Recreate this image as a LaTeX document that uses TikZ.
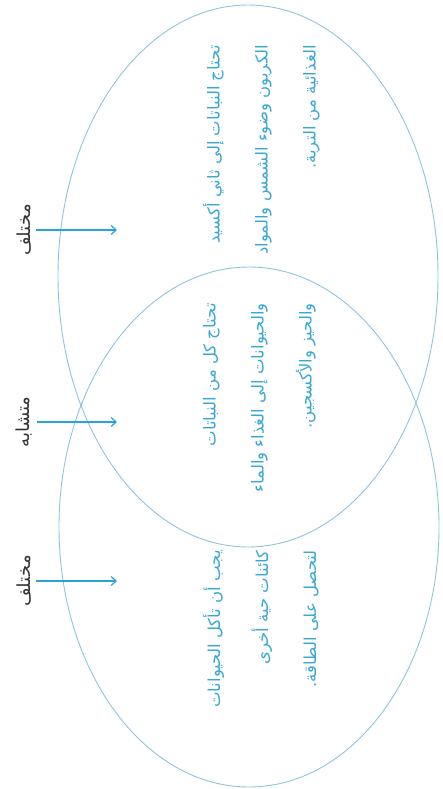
\documentclass[tikz,border=0pt]{standalone}
\usepackage{fontspec}
\usetikzlibrary{arrows.meta,positioning}
\newfontfamily\arabicfont[Script=Arabic]{DejaVu Sans}
\TeXXeTstate=1
\definecolor{rim}{HTML}{8CC6DC}
\definecolor{pointer}{HTML}{2AA2D2}
\definecolor{fact}{HTML}{3AA8D4}
\definecolor{tag}{HTML}{333333}
\newcommand{\rl}[1]{\beginR #1\endR}

\begin{document}
\begin{tikzpicture}[x=1pt,y=1pt,>={Straight Barb[length=5pt,width=9pt]},
  rim/.style={draw=rim,line width=.9pt},
  tagnode/.style={rotate=90,inner sep=1pt,text=tag,font=\arabicfont\fontsize{18}{20}\selectfont},
  factnode/.style={rotate=90,anchor=north east,inner sep=0pt,align=right,text=fact,
    font=\arabicfont\fontsize{16.5}{48}\selectfont}]
 \useasboundingbox (0,0) rectangle (443,-789);
 % the two sets
 \draw[rim] (248,-276) ellipse [x radius=190,y radius=271];
 \draw[rim] (249,-527) ellipse [x radius=190,y radius=260];
 % labels and pointers
 \foreach \y/\t/\n in {230/مختلف/plants,422/متشابه/both,581/مختلف/animals}{
   \node[tagnode] (\n-tag) at (24,-\y) {\rl{\t}};
   \coordinate (\n-tip) at (117,-\y);
   \draw[->,pointer,line width=1.2pt] (\n-tag.south) ++(4,0) -- (\n-tip);
 }
 % facts
 \node[factnode] (plants-txt) at (203,-45)
  {\rl{تحتاج النباتات إلى ثاني أكسيد}\\
   \rl{الكربون وضوء الشمس والمواد}\\
   \rl{الغذائية من التربة.}};
 \node[factnode] (both-txt) at (203,-303)
  {\rl{تحتاج كل من النباتات}\\
   \rl{والحيوانات إلى الغذاء والماء}\\
   \rl{والحيز والأكسجين.}};
 \node[factnode] (animals-txt) at (203,-550)
  {\rl{يجب أن تأكل الحيوانات}\\
   \rl{كائنات حية أخرى}\\
   \rl{لتحصل على الطاقة.}};
\end{tikzpicture}
\end{document}
